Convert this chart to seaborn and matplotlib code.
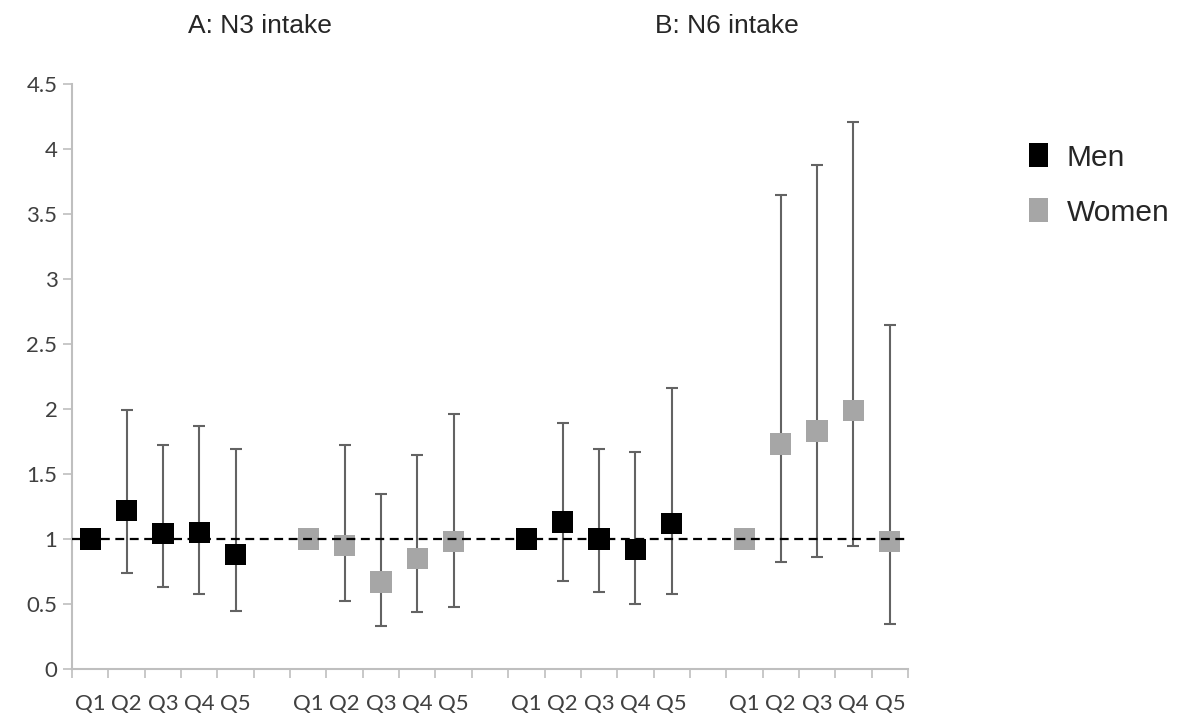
import matplotlib.pyplot as plt
import pandas as pd
import numpy as np
import seaborn as sns
from matplotlib.patches import Patch

quintiles = ['Q1', 'Q2', 'Q3', 'Q4', 'Q5']
panel_titles = ['A: N3 intake', 'B: N6 intake']
series_sex = ['Men', 'Women', 'Men', 'Women']

# odds ratio and 95% CI
men_n3 = [1.00, 1.22, 1.04, 1.05, 0.88]
men_n3_lo = [1.00, 0.74, 0.63, 0.58, 0.45]
men_n3_hi = [1.00, 1.99, 1.72, 1.87, 1.69]

women_n3 = [1.00, 0.95, 0.67, 0.85, 0.98]
women_n3_lo = [1.00, 0.52, 0.33, 0.44, 0.48]
women_n3_hi = [1.00, 1.72, 1.35, 1.65, 1.96]

men_n6 = [1.00, 1.13, 1.00, 0.92, 1.12]
men_n6_lo = [1.00, 0.68, 0.59, 0.50, 0.58]
men_n6_hi = [1.00, 1.89, 1.69, 1.67, 2.16]

women_n6 = [1.00, 1.73, 1.83, 1.99, 0.98]
women_n6_lo = [1.00, 0.82, 0.86, 0.95, 0.35]
women_n6_hi = [1.00, 3.65, 3.88, 4.21, 2.65]

colors = {'Men': '#000000', 'Women': '#A6A6A6'}

# build a long table, one block of 5 quintiles per series with a gap slot between
rows = []
series = [(men_n3, men_n3_lo, men_n3_hi), (women_n3, women_n3_lo, women_n3_hi),
          (men_n6, men_n6_lo, men_n6_hi), (women_n6, women_n6_lo, women_n6_hi)]
for g, (est, lo, hi) in enumerate(series):
    for i, q in enumerate(quintiles):
        rows.append({'pos': g * 6 + i, 'q': q, 'sex': series_sex[g],
                     'or': est[i], 'lo': lo[i], 'hi': hi[i]})
df = pd.DataFrame(rows)

sns.set_style('white')
fig = plt.figure(figsize=(11.78, 7.16), dpi=100)
ax = fig.add_axes([72 / 1178, 1 - 669 / 716, (908 - 72) / 1178, (669 - 84) / 716])

# confidence intervals
ax.errorbar(df['pos'], df['or'], yerr=[df['or'] - df['lo'], df['hi'] - df['or']],
            fmt='none', ecolor='#636363', elinewidth=1.5, capsize=4.5, capthick=1.5,
            zorder=2)

sns.scatterplot(data=df, x='pos', y='or', hue='sex', palette=colors, marker='s',
                s=235, linewidth=0, legend=False, zorder=3, ax=ax)

ax.axhline(1, color='black', lw=1.6, ls=(0, (4, 2.5)), zorder=4)

ax.set_xlim(-0.5, 22.5)
ax.set_ylim(0, 4.5)
ax.set_yticks(np.arange(0, 4.51, 0.5))
ax.set_yticklabels(['0', '0.5', '1', '1.5', '2', '2.5', '3', '3.5', '4', '4.5'])
ax.set_xticks(df['pos'])
ax.set_xticklabels(df['q'])
ax.set_xticks(np.arange(-0.5, 23, 1), minor=True)
ax.set_xlabel('')
ax.set_ylabel('')

for side in ['top', 'right']:
    ax.spines[side].set_visible(False)
for side in ['left', 'bottom']:
    ax.spines[side].set_color('#BFBFBF')
    ax.spines[side].set_linewidth(1.5)

ax.tick_params(axis='y', which='major', direction='out', length=6.5, width=1.2,
               color='#BFBFBF', labelsize=16, labelcolor='#404040', pad=4, left=True)
ax.tick_params(axis='x', which='major', length=0, labelsize=16, labelcolor='#404040', pad=18)
ax.tick_params(axis='x', which='minor', direction='out', length=6.5, width=1.2,
               color='#BFBFBF', bottom=True)
for lab in ax.get_xticklabels() + ax.get_yticklabels():
    lab.set_family('Lato')

fig.text(260 / 1178, 1 - 26 / 716, panel_titles[0], ha='center', va='center',
         fontsize=19, family='Liberation Sans')
fig.text(727 / 1178, 1 - 26 / 716, panel_titles[1], ha='center', va='center',
         fontsize=19, family='Liberation Sans')

handles = [Patch(facecolor=colors['Men'], edgecolor='none', label='Men'),
           Patch(facecolor=colors['Women'], edgecolor='none', label='Women')]
fig.legend(handles=handles, loc='center left', bbox_to_anchor=(1029 / 1178, 1 - 185 / 716),
           frameon=False, prop={'family': 'Liberation Sans', 'size': 21.5},
           handlelength=0.63, handleheight=0.83, handletextpad=0.63,
           labelspacing=0.9, borderpad=0, borderaxespad=0)

fig.savefig('out.png', dpi=100)
